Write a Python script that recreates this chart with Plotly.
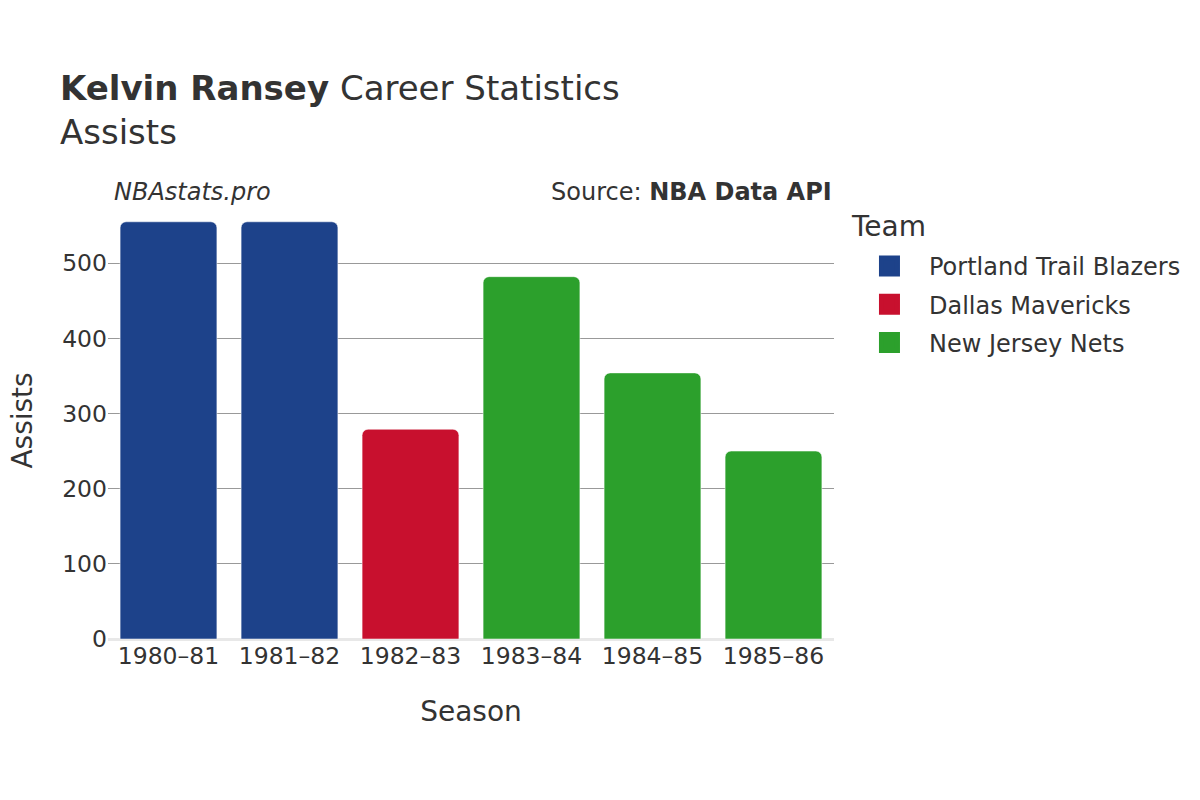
import plotly.graph_objects as go

# Kelvin Ransey - assists per season
seasons = ["1980–81", "1981–82", "1982–83", "1983–84", "1984–85", "1985–86"]
teams = ["Portland Trail Blazers", "Portland Trail Blazers", "Dallas Mavericks",
         "New Jersey Nets", "New Jersey Nets", "New Jersey Nets"]
assists = [555, 555, 279, 482, 354, 250]

team_order = ["Portland Trail Blazers", "Dallas Mavericks", "New Jersey Nets"]
team_colors = {
    "Portland Trail Blazers": "#1d428a",
    "Dallas Mavericks": "#c8102e",
    "New Jersey Nets": "#2ca02c",
}

fig = go.Figure()
for team in team_order:
    xs = [s for s, t in zip(seasons, teams) if t == team]
    ys = [a for a, t in zip(assists, teams) if t == team]
    fig.add_trace(go.Bar(
        x=xs, y=ys, name=team, showlegend=False, legendgroup=team,
        marker=dict(color=team_colors[team], cornerradius=6,
                    line=dict(color="rgba(255,255,255,0.5)", width=1)),
    ))
    # bigger legend swatch than the bar default
    fig.add_trace(go.Scatter(
        x=[None], y=[None], mode="markers", name=team, legendgroup=team,
        marker=dict(symbol="square", size=16, color=team_colors[team],
                    line=dict(color=team_colors[team], width=5)),
    ))

fig.update_layout(
    width=1200, height=800,
    font=dict(family="DejaVu Sans", color="#333333", size=24),
    plot_bgcolor="white", paper_bgcolor="white",
    barmode="overlay", bargap=0.2,
    margin=dict(l=100, r=374, t=195, b=169),
    title=dict(
        text="<b>Kelvin Ransey</b> Career Statistics<br>Assists",
        x=0.0433, xanchor="left", y=0.885, yanchor="bottom",
        font=dict(size=34, color="#333333"),
    ),
    legend=dict(
        x=1.022, xanchor="left", y=0.906, yanchor="top",
        font=dict(size=24), itemsizing="trace", itemwidth=69,
        tracegroupgap=4,
    ),
    xaxis=dict(
        title=dict(text="Season", font=dict(size=28), standoff=32),
        categoryorder="array", categoryarray=seasons,
        showline=False, ticks="", tickfont=dict(size=23.5),
    ),
    yaxis=dict(
        automargin=False,
        range=[0, 580], tickvals=[0, 100, 200, 300, 400, 500],
        showgrid=True, gridcolor="#999999", gridwidth=1,
        zeroline=True, zerolinecolor="#e8e8e8", zerolinewidth=3,
        ticks="", tickfont=dict(size=23.5),
    ),
)

# y axis title and legend heading as plain text, placed like the reference
fig.add_annotation(
    text="Assists", xref="paper", yref="paper", textangle=-90,
    x=-0.119, y=0.5, xanchor="center", yanchor="middle", showarrow=False,
    borderpad=0, font=dict(size=28, color="#333333"),
)
fig.add_annotation(
    text="Team", xref="paper", yref="paper",
    x=1.0207, y=0.947, xanchor="left", yanchor="middle", showarrow=False,
    font=dict(size=28, color="#333333"),
)
fig.add_annotation(
    text="<i>NBAstats.pro</i>", xref="paper", yref="paper",
    x=0, y=1.0, xanchor="left", yanchor="bottom", showarrow=False,
    xshift=4, yshift=-5, font=dict(size=24, color="#333333"),
)
fig.add_annotation(
    text="Source: <b>NBA Data API</b>", xref="paper", yref="paper",
    x=1, y=1.0, xanchor="right", yanchor="bottom", showarrow=False,
    yshift=-5, font=dict(size=24, color="#333333"),
)

fig.write_html("out.html")
